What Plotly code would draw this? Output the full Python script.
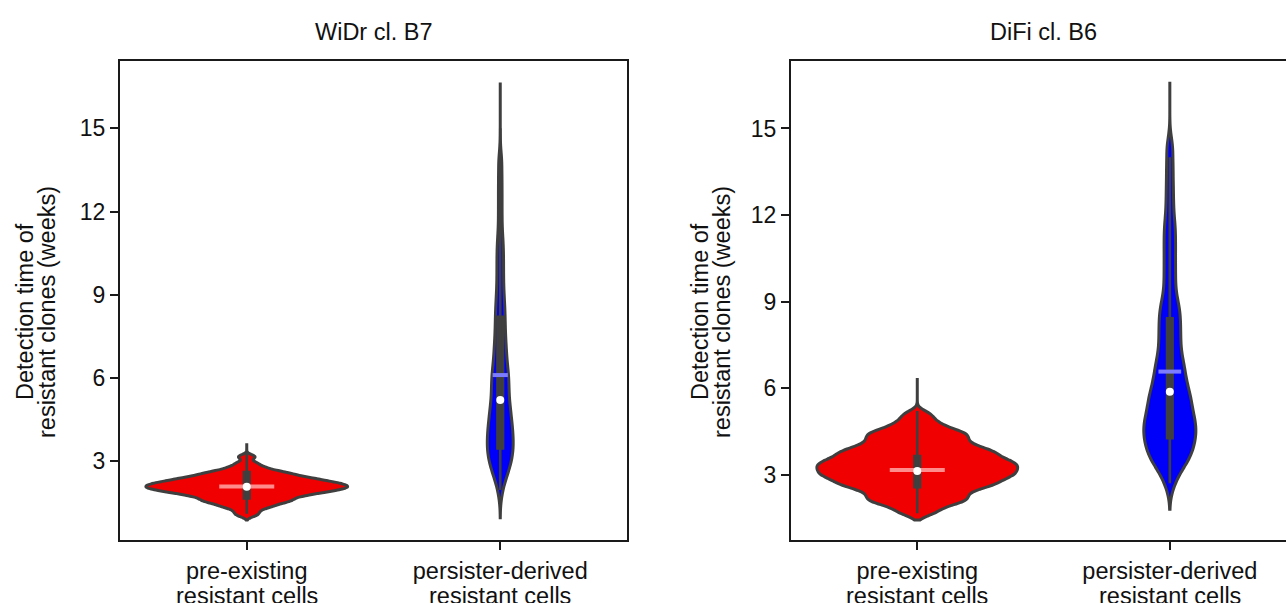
import plotly.graph_objects as go

W, H = 1286, 603

# ---------------- data ----------------
category_lines = [["pre-existing", "resistant cells"],
                  ["persister-derived", "resistant cells"]]
panel_titles = ["WiDr cl. B7", "DiFi cl. B6"]
y_title_lines = ["Detection time of", "resistant clones (weeks)"]
y_ticks = [3, 6, 9, 12, 15]

# detection times (weeks) of individual resistant clones, estimated from the violin shapes
widr_pre = [1.05, 1.18, 1.30, 1.36, 1.42, 1.47, 1.52, 1.55, 1.58, 1.62,
            1.65, 1.69, 1.72, 1.75, 1.78, 1.80, 1.83, 1.85, 1.87, 1.89,
            1.91, 1.93, 1.95, 1.96, 1.98, 2.00, 2.01, 2.03, 2.05, 2.06,
            2.07, 2.09, 2.11, 2.12, 2.14, 2.15, 2.17, 2.19, 2.20, 2.22,
            2.24, 2.26, 2.27, 2.30, 2.32, 2.34, 2.36, 2.39, 2.41, 2.43,
            2.47, 2.50, 2.54, 2.57, 2.60, 2.66, 2.72, 2.80, 2.93, 3.15]
widr_persister = [1.94, 2.35, 2.52, 2.64, 2.76, 2.89, 3.01, 3.10, 3.19, 3.27,
                  3.36, 3.45, 3.54, 3.63, 3.72, 3.81, 3.90, 3.99, 4.08, 4.17,
                  4.26, 4.37, 4.47, 4.58, 4.68, 4.79, 4.90, 5.01, 5.15, 5.28,
                  5.42, 5.55, 5.69, 5.82, 5.96, 6.09, 6.23, 6.36, 6.54, 6.72,
                  6.91, 7.10, 7.29, 7.51, 7.75, 7.98, 8.22, 8.46, 8.72, 9.00,
                  9.34, 9.69, 10.05, 10.40, 10.76, 11.17, 11.80, 12.45, 13.10, 13.80]
difi_pre = [1.65, 1.81, 1.96, 2.03, 2.10, 2.16, 2.23, 2.30, 2.37, 2.44,
            2.51, 2.56, 2.60, 2.64, 2.69, 2.73, 2.77, 2.82, 2.86, 2.90,
            2.93, 2.97, 3.00, 3.04, 3.07, 3.11, 3.14, 3.18, 3.21, 3.25,
            3.28, 3.32, 3.35, 3.38, 3.42, 3.45, 3.49, 3.52, 3.57, 3.61,
            3.65, 3.70, 3.74, 3.78, 3.83, 3.87, 3.91, 3.97, 4.04, 4.10,
            4.17, 4.24, 4.31, 4.38, 4.44, 4.50, 4.60, 4.72, 4.88, 5.10]
difi_persister = [2.66, 3.03, 3.22, 3.37, 3.48, 3.58, 3.69, 3.78, 3.87, 3.96,
                  4.05, 4.14, 4.23, 4.31, 4.39, 4.47, 4.55, 4.63, 4.71, 4.79,
                  4.88, 4.95, 5.04, 5.14, 5.24, 5.34, 5.44, 5.54, 5.64, 5.74,
                  5.84, 5.94, 6.06, 6.20, 6.34, 6.48, 6.62, 6.76, 6.90, 7.06,
                  7.27, 7.47, 7.67, 7.87, 8.07, 8.27, 8.48, 8.68, 8.88, 9.15,
                  9.54, 9.92, 10.30, 10.69, 11.07, 11.45, 11.84, 12.40, 13.00, 13.65, 14.35]

# inner box summaries: q1, median, q3, lower whisker, upper whisker, mean
widr_pre_q1, widr_pre_median, widr_pre_q3 = 1.65, 2.07, 2.60
widr_pre_whiskers, widr_pre_mean = (1.10, 3.35), 2.08
widr_per_q1, widr_per_median, widr_per_q3 = 3.45, 5.20, 8.20
widr_per_whiskers, widr_per_mean = (1.95, 15.00), 6.10
difi_pre_q1, difi_pre_median, difi_pre_q3 = 2.56, 3.12, 3.64
difi_pre_whiskers, difi_pre_mean = (1.66, 5.20), 3.16
difi_per_q1, difi_per_median, difi_per_q3 = 4.26, 5.87, 8.42
difi_per_whiskers, difi_per_mean = (2.70, 14.00), 6.57

# KDE extent (weeks) of each violin
widr_pre_span, widr_per_span = (0.87, 3.64), (0.95, 16.65)
difi_pre_span, difi_per_span = (1.42, 6.35), (1.80, 16.62)

# ---------------- styles ----------------
FONT = "Liberation Sans, Arial, Helvetica, sans-serif"
OUTLINE = "#3f3f3f"
FILL = ["#f00000", "#0000fa"]
MEANCOL = ["#ff8c8c", "#7c7cff"]
TEXT = "#111111"
FS = 23.5

panels = [
    dict(samples=[widr_pre, widr_persister],
         q1=[widr_pre_q1, widr_per_q1], med=[widr_pre_median, widr_per_median],
         q3=[widr_pre_q3, widr_per_q3], wh=[widr_pre_whiskers, widr_per_whiskers],
         mean=[widr_pre_mean, widr_per_mean], span=[widr_pre_span, widr_per_span],
         bw=[0.08, 0.38], vwidth=[0.795, 0.102], mwidth=[0.217, 0.06],
         xa="x", ya="y"),
    dict(samples=[difi_pre, difi_persister],
         q1=[difi_pre_q1, difi_per_q1], med=[difi_pre_median, difi_per_median],
         q3=[difi_pre_q3, difi_per_q3], wh=[difi_pre_whiskers, difi_per_whiskers],
         mean=[difi_pre_mean, difi_per_mean], span=[difi_pre_span, difi_per_span],
         bw=[0.14, 0.38], vwidth=[0.795, 0.206], mwidth=[0.218, 0.09],
         xa="x2", ya="y2"),
]

positions = list(range(len(category_lines)))

fig = go.Figure()
for p in panels:
    for k, pos in enumerate(positions):
        fig.add_trace(go.Violin(
            x0=pos, y=p["samples"][k], orientation="v",
            xaxis=p["xa"], yaxis=p["ya"],
            width=p["vwidth"][k], bandwidth=p["bw"][k],
            spanmode="manual", span=list(p["span"][k]),
            scalemode="width", points=False,
            box_visible=False, meanline_visible=False,
            fillcolor=FILL[k], line=dict(color=OUTLINE, width=3),
            opacity=1, hoverinfo="skip", showlegend=False))
    for k, pos in enumerate(positions):
        fig.add_trace(go.Box(
            x=[pos], q1=[p["q1"][k]], median=[p["med"][k]], q3=[p["q3"][k]],
            lowerfence=[p["wh"][k][0]], upperfence=[p["wh"][k][1]],
            width=0.022, whiskerwidth=0, boxpoints=False,
            fillcolor=OUTLINE, line=dict(color=OUTLINE, width=2.6),
            xaxis=p["xa"], yaxis=p["ya"], hoverinfo="skip", showlegend=False))
        half = p["mwidth"][k] / 2
        fig.add_trace(go.Scatter(
            x=[pos - half, pos + half], y=[p["mean"][k]] * 2, mode="lines",
            line=dict(color=MEANCOL[k], width=4),
            xaxis=p["xa"], yaxis=p["ya"], hoverinfo="skip", showlegend=False))
        fig.add_trace(go.Scatter(
            x=[pos], y=[p["med"][k]], mode="markers",
            marker=dict(color="white", size=8, line=dict(width=0)),
            xaxis=p["xa"], yaxis=p["ya"], hoverinfo="skip", showlegend=False))

axis_common = dict(
    showline=True, linecolor="#1a1a1a", linewidth=2,
    ticks="outside", ticklen=8, tickwidth=2, tickcolor="#1a1a1a",
    showgrid=False, zeroline=False, automargin=False, fixedrange=True,
)
xtick_font = dict(family=FONT, size=FS, color=TEXT)
ytick_font = dict(family=FONT, size=23, color=TEXT)
first_lines = [c[0] for c in category_lines]

y_dom = [1 - 540 / H, 1 - 61 / H]
fig.update_layout(
    width=W, height=H, margin=dict(l=0, r=0, t=0, b=0),
    paper_bgcolor="white", plot_bgcolor="white",
    violinmode="overlay", boxmode="overlay", showlegend=False,
    xaxis=dict(domain=[120 / W, 627 / W], range=[-0.5, 1.5], anchor="y",
               tickvals=positions, ticktext=first_lines, mirror=True,
               tickfont=xtick_font, ticklabelstandoff=1, **axis_common),
    yaxis=dict(domain=y_dom, range=[0.15, 17.43], anchor="x",
               tickvals=y_ticks, mirror=True, tickfont=ytick_font, **axis_common),
    xaxis2=dict(domain=[791 / W, 1.0], range=[-0.5, 1.46], anchor="y2",
                tickvals=positions, ticktext=first_lines, mirror=True,
                tickfont=xtick_font, ticklabelstandoff=1, **axis_common),
    yaxis2=dict(domain=y_dom, range=[0.73, 17.34], anchor="x2",
                tickvals=y_ticks, mirror=False, tickfont=ytick_font, **axis_common),
)

title_x = [373.5 / W, 1043.5 / W]
ylab_x = [(25 / W, 47 / W), (700 / W, 722 / W)]
xrefs = ["x", "x2"]
for i in range(2):
    fig.add_annotation(text=panel_titles[i], x=title_x[i], y=1 - 32 / H,
                       xref="paper", yref="paper", showarrow=False,
                       xanchor="center", yanchor="middle",
                       font=dict(family=FONT, size=FS, color=TEXT))
    for j, line in enumerate(y_title_lines):
        fig.add_annotation(text=line, x=ylab_x[i][j], y=1 - 312 / H,
                           xref="paper", yref="paper", showarrow=False, textangle=-90,
                           xanchor="center", yanchor="middle",
                           font=dict(family=FONT, size=FS, color=TEXT))
    for k, pos in enumerate(positions):
        fig.add_annotation(text=category_lines[k][1], x=pos, y=1 - 596 / H,
                           xref=xrefs[i], yref="paper", showarrow=False,
                           xanchor="center", yanchor="middle",
                           font=dict(family=FONT, size=FS, color=TEXT))

fig.write_html("out.html")
